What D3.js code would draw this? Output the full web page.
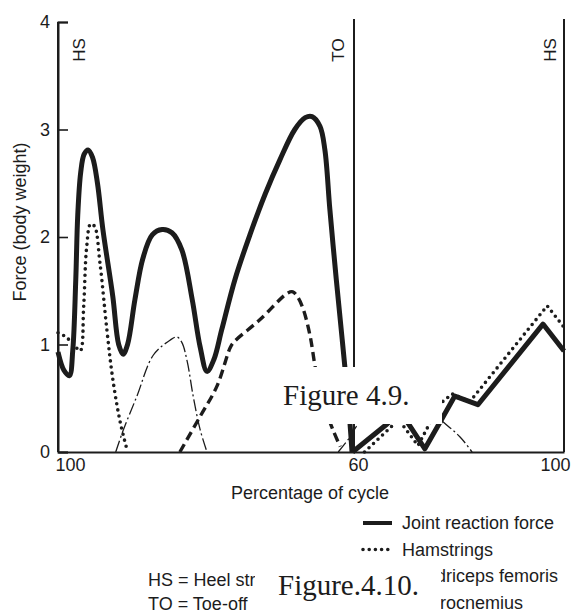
<!DOCTYPE html>
<html>
<head>
<meta charset="utf-8">
<script src="https://cdnjs.cloudflare.com/ajax/libs/d3/7.8.5/d3.min.js"></script>
<style>
  html, body { margin: 0; padding: 0; background: #fff; }
  svg { display: block; }
  text { font-family: "Liberation Sans", Arial, Helvetica, sans-serif; fill: #1c1c1c; }
</style>
</head>
<body>
<script>
// Knee forces across one gait cycle (percent of cycle, body weights)
const yTicks = [0, 1, 2, 3, 4];
const xTicks = [0, 60, 100];
const xTickLabels = ["100", "60", "100"];
const events = [
  { pct: 0, label: "HS" },
  { pct: 60, label: "TO" },
  { pct: 100, label: "HS" }
];

// Joint reaction force, stance (smooth) and swing (segmented)
const jointStance = [
  [0, 0.93], [1.2, 0.76], [2.3, 0.71], [3.0, 0.95], [3.6, 1.6], [4.0, 2.2],
  [4.6, 2.6], [5.3, 2.77], [6.1, 2.81], [7.0, 2.74], [8.0, 2.5], [9.1, 2.07],
  [11.1, 1.45], [12.3, 1.0], [13.2, 0.91], [14.1, 1.0], [15.6, 1.42],
  [17.2, 1.8], [19.1, 2.02], [21.1, 2.07], [23.1, 2.04], [25.1, 1.88],
  [27.2, 1.42], [28.8, 0.98], [30.2, 0.75], [31.6, 0.86], [33.2, 1.14],
  [35.9, 1.61], [38.9, 2.02], [42, 2.4], [45, 2.72], [48, 3.0], [50.1, 3.11],
  [51.5, 3.12], [53.1, 3.03], [54.1, 2.81], [55.1, 2.26], [56.4, 1.61],
  [57.6, 1.05], [58.6, 0.58], [59.2, 0.26], [59.6, 0]
];
const jointSwing = [
  [59.7, 0], [66.3, 0.26], [68.8, 0.38], [73.5, 0.03], [77.0, 0.33],
  [79.2, 0.52], [83.6, 0.44], [96.0, 1.19], [100, 0.94]
];

// Hamstrings
const hamStance = [
  [0, 1.11], [1.6, 1.07], [3.2, 1.0], [4.5, 0.94], [5.2, 1.35], [5.8, 1.9],
  [6.6, 2.12], [7.4, 2.1], [8.5, 1.76], [9.9, 1.14], [11.1, 0.68],
  [12.6, 0.28], [14.0, 0.02]
];
const hamSwing = [
  [62, 0], [68.5, 0.3], [72.2, 0.06], [76.4, 0.45], [78.7, 0.54],
  [82.1, 0.47], [96.8, 1.36], [100, 1.16]
];

// Quadriceps femoris
const quadStance = [
  [24.7, 0], [28.8, 0.33], [32.2, 0.61], [34.9, 0.97], [35.6, 1.02],
  [40.9, 1.23], [46.6, 1.48], [47.6, 1.49], [48.6, 1.44], [49.7, 1.33],
  [51.1, 1.08], [52.1, 0.8], [53.5, 0.49], [55.7, 0.21], [57.2, 0.05]
];

// Gastrocnemius
const gastStance = [
  [11.7, 0], [13.2, 0.2], [16.0, 0.52], [19.3, 0.9], [22.7, 1.04],
  [24.1, 1.07], [25.1, 1.02], [26.2, 0.84], [27.4, 0.52], [28.8, 0.21], [30.2, 0]
];
const gastSwing = [
  [56.8, 0], [59.2, 0.14], [60.8, 0.26], [68, 0.55], [72, 0.5],
  [77.0, 0.28], [80.2, 0.14], [82.5, 0]
];

const legendItems = [
  { name: "Joint reaction force", style: "joint" },
  { name: "Hamstrings", style: "ham" },
  { name: "Quadriceps femoris", style: "quad" },
  { name: "Gastrocnemius", style: "gast" }
];
const notes = ["HS = Heel strike", "TO = Toe-off"];

const W = 576, H = 615;
const ink = "#1c1c1c";
const styles = {
  joint: { width: 5, dash: null, cap: "butt" },
  ham: { width: 3.6, dash: "0 6.2", cap: "round" },
  quad: { width: 3.4, dash: "9 5", cap: "butt" },
  gast: { width: 1.3, dash: "12 3 2 3", cap: "butt" }
};

const svg = d3.select("body").append("svg").attr("width", W).attr("height", H);

const x = d3.scaleLinear().domain([0, 60, 100]).range([58, 354, 564]);
const y = d3.scaleLinear().domain([0, 4]).range([452, 22]);

const smooth = d3.line().x(d => x(d[0])).y(d => y(d[1])).curve(d3.curveCatmullRom.alpha(0.5));
const straight = d3.line().x(d => x(d[0])).y(d => y(d[1]));

function draw(data, gen, st) {
  const s = styles[st];
  svg.append("path").attr("d", gen(data))
    .attr("fill", "none").attr("stroke", ink)
    .attr("stroke-width", s.width)
    .attr("stroke-dasharray", s.dash)
    .attr("stroke-linecap", s.cap)
    .attr("stroke-linejoin", "round");
}

draw(gastStance, smooth, "gast");
draw(gastSwing, smooth, "gast");
draw(quadStance, smooth, "quad");
draw(hamStance, smooth, "ham");
draw(hamSwing, straight, "ham");
draw(jointStance, smooth, "joint");
draw(jointSwing, straight, "joint");

// Event lines (heel strike / toe-off) with rotated labels
const labelShift = { 0: 27, 60: -10, 100: -8 };
events.forEach(e => {
  svg.append("line")
    .attr("x1", x(e.pct)).attr("x2", x(e.pct))
    .attr("y1", e.pct === 0 ? y(4) : 19).attr("y2", y(0))
    .attr("stroke", ink).attr("stroke-width", 2);
  svg.append("text")
    .attr("transform", `translate(${x(e.pct) + labelShift[e.pct]},50) rotate(-90)`)
    .attr("text-anchor", "middle")
    .attr("font-size", 17)
    .text(e.label);
});

// Axes
const yAxis = d3.axisLeft(y).tickValues(yTicks).tickSize(-10).tickPadding(8).tickFormat(d3.format("d"));
const gy = svg.append("g").attr("transform", `translate(${x(0)},0)`).call(yAxis);
gy.select(".domain").attr("stroke", ink).attr("stroke-width", 2);
gy.selectAll(".tick line").attr("stroke", ink).attr("stroke-width", 1.6);
gy.selectAll(".tick text").attr("font-size", 18).attr("fill", ink)
  .style("font-family", "'Liberation Sans', Arial, sans-serif");

const xAxis = d3.axisBottom(x).tickValues(xTicks).tickSize(0).tickPadding(6)
  .tickFormat((d, i) => xTickLabels[i]);
const gx = svg.append("g").attr("transform", `translate(0,${y(0)})`).call(xAxis);
gx.select(".domain").attr("stroke", ink).attr("stroke-width", 2);
gx.selectAll(".tick text").attr("font-size", 18).attr("fill", ink)
  .style("font-family", "'Liberation Sans', Arial, sans-serif");
gx.selectAll(".tick").filter(d => d === 0).select("text").attr("dx", 12);
gx.selectAll(".tick").filter(d => d === 60).select("text").attr("dx", 4);
gx.selectAll(".tick").filter(d => d === 100).select("text").attr("dx", -9);

svg.append("text")
  .attr("x", 310).attr("y", 499)
  .attr("text-anchor", "middle").attr("font-size", 18)
  .text("Percentage of cycle");

svg.append("text")
  .attr("transform", "translate(26,222) rotate(-90)")
  .attr("text-anchor", "middle").attr("font-size", 18)
  .text("Force (body weight)");

// Legend
legendItems.forEach((item, i) => {
  const ly = 523 + i * 26.5;
  const s = styles[item.style];
  svg.append("line")
    .attr("x1", 363).attr("x2", 392).attr("y1", ly).attr("y2", ly)
    .attr("stroke", ink).attr("stroke-width", s.width === 5 ? 4 : s.width)
    .attr("stroke-dasharray", s.dash).attr("stroke-linecap", s.cap);
  svg.append("text")
    .attr("x", 402).attr("y", ly + 6)
    .attr("font-size", 18)
    .text(item.name);
});

notes.forEach((t, i) => {
  svg.append("text")
    .attr("x", 148).attr("y", 586 + i * 24)
    .attr("font-size", 18)
    .text(t);
});

// Figure captions on white panels
function caption(rx, ry, rw, rh, tx, ty, label) {
  svg.append("rect").attr("x", rx).attr("y", ry).attr("width", rw).attr("height", rh).attr("fill", "#fff");
  svg.append("text")
    .attr("x", tx).attr("y", ty).attr("font-size", 29)
    .style("font-family", "'Liberation Serif', 'Times New Roman', serif")
    .text(label);
}
caption(262, 367, 180, 57, 283, 405, "Figure 4.9.");
caption(255, 562, 186, 53, 278, 595, "Figure.4.10.");
</script>
</body>
</html>
